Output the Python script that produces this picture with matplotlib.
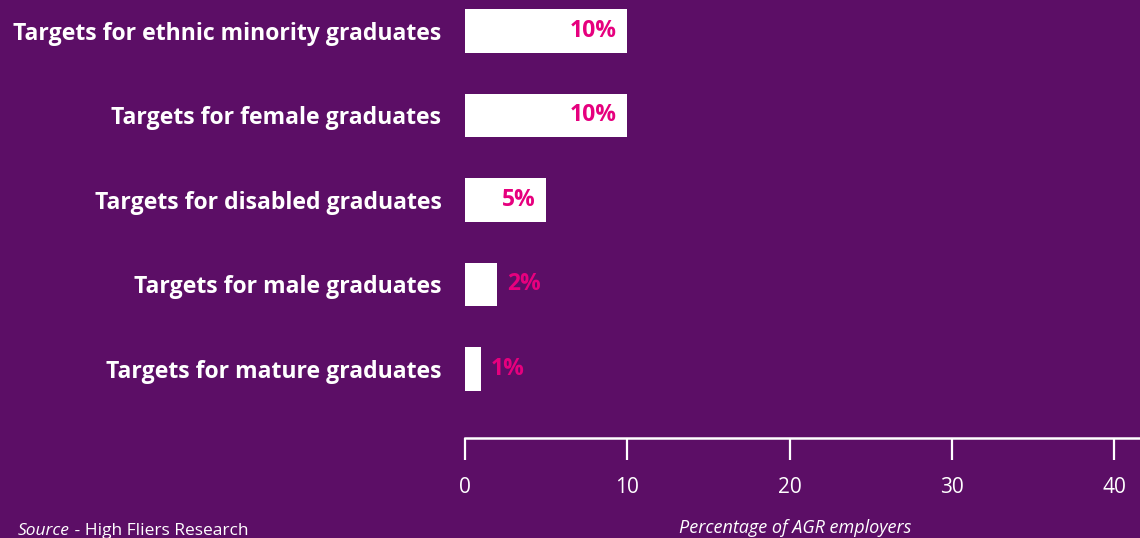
import matplotlib
matplotlib.use('Agg')
import matplotlib.pyplot as plt
from matplotlib.transforms import offset_copy

# target types and share of AGR employers setting each (%)
categories = ['Targets for ethnic minority graduates',
              'Targets for female graduates',
              'Targets for disabled graduates',
              'Targets for male graduates',
              'Targets for mature graduates']
values = [10, 10, 5, 2, 1]
xticks = [0, 10, 20, 30, 40]

purple = '#5c0e66'
pink = '#e6007e'
plt.rcParams['font.family'] = ['Open Sans', 'DejaVu Sans']

fig = plt.figure(figsize=(11.4, 5.38), dpi=100, facecolor=purple)
ax = fig.add_axes([465 / 1140, 100 / 538, 675 / 1140, 438 / 538])
ax.set_facecolor(purple)

ypos = range(len(categories))
ax.barh(ypos, values, height=0.515, color='white', zorder=2)

# value labels: inside the bar when it is wide enough, otherwise after it
for y, v in zip(ypos, values):
    if v >= 5:
        ax.text(v - 0.65, y, '%d%%' % v, ha='right', va='center',
                color=pink, fontsize=16.5, fontweight='bold', zorder=3)
    else:
        ax.text(v + 0.6, y, '%d%%' % v, ha='left', va='center',
                color=pink, fontsize=16.5, fontweight='bold', zorder=3)

ax.set_xlim(0, 675 / 16.23)
ax.set_ylim(4.817, -0.367)

ax.set_yticks(list(ypos))
ax.set_yticklabels(categories, color='white', fontsize=16.6, fontweight='bold')
ax.tick_params(axis='y', length=0, pad=17)

ax.set_xticks(xticks)
ax.set_xticklabels([str(t) for t in xticks], color='white', fontsize=15)
ax.tick_params(axis='x', direction='out', length=16, width=1.6,
               color='white', pad=12)

for side in ['left', 'right', 'top']:
    ax.spines[side].set_visible(False)
ax.spines['bottom'].set_color('white')
ax.spines['bottom'].set_linewidth(1.8)

fig.text(795 / 1140, 1 - 528 / 538, 'Percentage of AGR employers',
         color='white', fontsize=13, style='italic', ha='center', va='center')

# source line: italic "Source" followed by the plain text
src = fig.text(18 / 1140, 1 - 531 / 538, 'Source', color='white', fontsize=12.5,
               style='italic', ha='left', va='center')
fig.canvas.draw()
bb = src.get_window_extent()
fig.text(bb.x1 / fig.bbox.width, 1 - 531 / 538, ' - High Fliers Research',
         color='white', fontsize=12.5, ha='left', va='center')

fig.savefig('out.png', dpi=100, facecolor=purple)
